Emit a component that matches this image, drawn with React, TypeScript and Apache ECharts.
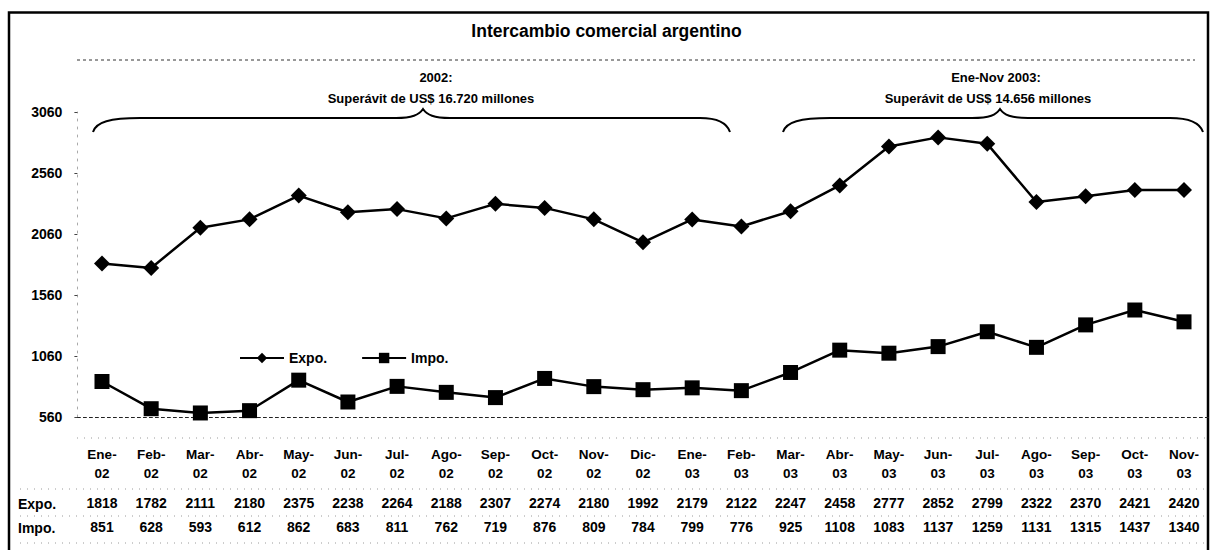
import React, { useEffect, useRef } from "react";
import * as echarts from "echarts";

const months = [
  "Ene-02", "Feb-02", "Mar-02", "Abr-02", "May-02", "Jun-02", "Jul-02", "Ago-02",
  "Sep-02", "Oct-02", "Nov-02", "Dic-02", "Ene-03", "Feb-03", "Mar-03", "Abr-03",
  "May-03", "Jun-03", "Jul-03", "Ago-03", "Sep-03", "Oct-03", "Nov-03",
];
const expo = [
  1818, 1782, 2111, 2180, 2375, 2238, 2264, 2188, 2307, 2274, 2180, 1992,
  2179, 2122, 2247, 2458, 2777, 2852, 2799, 2322, 2370, 2421, 2420,
];
const impo = [
  851, 628, 593, 612, 862, 683, 811, 762, 719, 876, 809, 784,
  799, 776, 925, 1108, 1083, 1137, 1259, 1131, 1315, 1437, 1340,
];
const yMin = 560;
const yMax = 3060;
const yStep = 500;

const titleText = "Intercambio comercial argentino";
const note1 = ["2002:", "Superávit de US$ 16.720 millones"];
const note2 = ["Ene-Nov 2003:", "Superávit de US$ 14.656 millones"];
const rowNames = ["Expo.", "Impo."];

const FONT = "'Liberation Sans', Arial, Helvetica, sans-serif";

const braceD =
  "M93,132 C96,122 110,118 140,118 L396,118 C412,118 419,115 423,109 C427,115 434,118 450,118 L700,118 C718,118 727,123 730,132 " +
  "M783,132 C786,122 800,118 830,118 L972,118 C990,118 996,115 1000,109 C1004,115 1011,118 1028,118 L1170,118 C1190,118 1200,123 1203,132";

let registered = false;
function ensureShapes() {
  if (registered) return;
  echarts.graphic.registerShape("braces", echarts.graphic.extendPath(braceD, {}));
  registered = true;
}

export default function App() {
  const ref = useRef<HTMLDivElement>(null);
  useEffect(() => {
    if (!ref.current) return;
    ensureShapes();
    const chart = echarts.init(ref.current, undefined, { renderer: "svg" });
    const labelBase = {
      fontFamily: FONT,
      fontWeight: "bold" as const,
      fontSize: 14,
      color: "#000",
    };
    const dotted = { stroke: "#9a9a9a", lineWidth: 1, lineDash: [1, 6] };
    const noteStyle = { fontFamily: FONT, fontWeight: "bold" as const, fontSize: 13, align: "center" as const, verticalAlign: "middle" as const, fill: "#000" };
    chart.setOption({
      animation: false,
      backgroundColor: "#fff",
      title: {
        text: titleText,
        left: "center",
        top: 17,
        textStyle: { fontFamily: FONT, fontWeight: "bold", fontSize: 17.5, color: "#000" },
      },
      legend: {
        left: 234,
        top: 346,
        itemWidth: 44,
        itemHeight: 13,
        itemGap: 34,
        textStyle: { ...labelBase },
        data: ["Expo.", "Impo."],
      },
      grid: { left: 77.4, right: 4.4, top: 112, bottom: 133 },
      xAxis: [
        {
          type: "category",
          data: months,
          boundaryGap: true,
          axisLine: { show: true, lineStyle: { color: "#222", width: 1, type: [3, 3] } },
          axisTick: { show: false },
          splitLine: { show: false },
          axisLabel: {
            ...labelBase,
            fontSize: 13.5,
            margin: 28,
            lineHeight: 19,
            interval: 0,
            formatter: (v: string) => v.replace("-", "-\n"),
          },
        },
        {
          type: "category",
          data: months,
          position: "bottom",
          axisLine: { show: false },
          axisTick: { show: false },
          axisLabel: {
            ...labelBase,
            margin: 77,
            lineHeight: 17,
            interval: 0,
            formatter: (_: string, i: number) => String(expo[i]),
          },
        },
        {
          type: "category",
          data: months,
          position: "bottom",
          axisLine: { show: false },
          axisTick: { show: false },
          axisLabel: {
            ...labelBase,
            margin: 101,
            lineHeight: 17,
            interval: 0,
            formatter: (_: string, i: number) => String(impo[i]),
          },
        },
      ],
      yAxis: {
        type: "value",
        min: yMin,
        max: yMax,
        interval: yStep,
        axisLine: { show: true, lineStyle: { color: "#aaa", type: [2, 6], width: 1 } },
        axisTick: { show: true, length: 3, lineStyle: { color: "#444" } },
        splitLine: { show: false },
        axisLabel: { ...labelBase, margin: 15, formatter: (v: number) => String(v) },
      },
      series: [
        {
          name: "Expo.",
          type: "line",
          data: expo,
          symbol: "diamond",
          symbolSize: 16,
          lineStyle: { color: "#000", width: 2.5 },
          itemStyle: { color: "#000" },
        },
        {
          name: "Impo.",
          type: "line",
          data: impo,
          symbol: "rect",
          symbolSize: 15,
          lineStyle: { color: "#000", width: 2.5 },
          itemStyle: { color: "#000" },
        },
      ],
      graphic: [
        {
          type: "rect",
          shape: { x: 9, y: 12.5, width: 1199, height: 560 },
          style: { fill: "none", stroke: "#000", lineWidth: 2.5 },
          silent: true,
        },
        {
          type: "line",
          shape: { x1: 77, y1: 60, x2: 1195, y2: 60 },
          style: { stroke: "#333", lineWidth: 1, lineDash: [3, 3] },
          silent: true,
        },
        {
          type: "braces",
          x: 0,
          y: 0,
          style: { fill: "none", stroke: "#000", lineWidth: 2 },
          silent: true,
        },
        { type: "text", x: 436, y: 77, style: { text: note1[0], ...noteStyle } },
        { type: "text", x: 431, y: 98, style: { text: note1[1], ...noteStyle } },
        { type: "text", x: 996, y: 77, style: { text: note2[0], ...noteStyle } },
        { type: "text", x: 988, y: 98, style: { text: note2[1], ...noteStyle } },
        {
          type: "text",
          x: 18,
          y: 504,
          style: { text: rowNames[0], fontFamily: FONT, fontWeight: "bold", fontSize: 14, align: "left", verticalAlign: "middle", fill: "#000" },
        },
        {
          type: "text",
          x: 18,
          y: 528,
          style: { text: rowNames[1], fontFamily: FONT, fontWeight: "bold", fontSize: 14, align: "left", verticalAlign: "middle", fill: "#000" },
        },
        { type: "line", shape: { x1: 77, y1: 438, x2: 1208, y2: 438 }, style: dotted, silent: true },
        { type: "line", shape: { x1: 20, y1: 489, x2: 1208, y2: 489 }, style: dotted, silent: true },
        { type: "line", shape: { x1: 20, y1: 516, x2: 1208, y2: 516 }, style: dotted, silent: true },
        { type: "line", shape: { x1: 20, y1: 543, x2: 1208, y2: 543 }, style: dotted, silent: true },
      ],
    });
    return () => chart.dispose();
  }, []);
  return (
    <div
      ref={ref}
      style={{ position: "fixed", left: 0, top: 0, width: 1213, height: 550, background: "#fff" }}
    />
  );
}
